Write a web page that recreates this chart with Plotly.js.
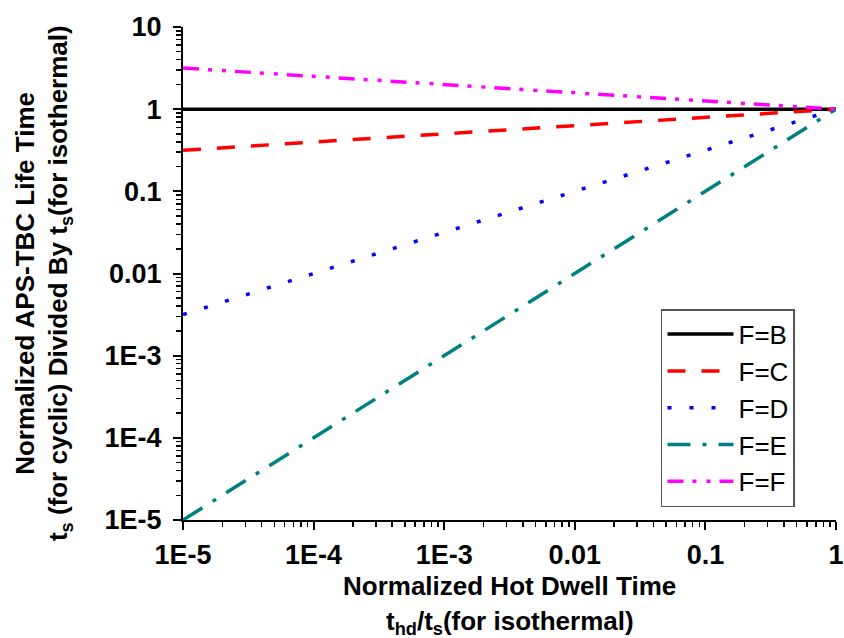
<!DOCTYPE html>
<html><head><meta charset="utf-8">
<script src="https://cdn.plot.ly/plotly-3.0.1.min.js"></script>
<style>body{margin:0;background:#fff}#c{width:844px;height:638px}</style>
</head><body><div id="c"></div>
<script>
const xEnds = [1e-5, 1];
const seriesNames = ["F=B", "F=C", "F=D", "F=E", "F=F"];
const yB = [1, 1];
const yC = [0.316, 1];
const yD = [0.00316, 1];
const yE = [1e-5, 1];
const yF = [3.16, 1];
const xTickVals = [1e-5, 1e-4, 1e-3, 0.01, 0.1, 1];
const xTickText = ["1E-5", "1E-4", "1E-3", "0.01", "0.1", "1"];
const yTickVals = [1e-5, 1e-4, 1e-3, 0.01, 0.1, 1, 10];
const yTickText = ["1E-5", "1E-4", "1E-3", "0.01", "0.1", "1", "10"];
const xTitleLines = ["Normalized Hot Dwell Time", "t<sub>hd</sub>/t<sub>s</sub>(for isothermal)"];
const yTitleLines = ["Normalized APS-TBC Life Time", "t<sub>s</sub> (for cyclic) Divided By t<sub>s</sub>(for isothermal)"];

const ys = [yB, yC, yD, yE, yF];
const colors = ["#000000", "#ff0000", "#0000ff", "#008080", "#ff00ff"];
const dashes = ["solid", "18px,16px", "4px,18px", "23px,12px,4px,12px", "16px,9px,4px,10px,4px,9px"];
const traces = ys.map((y, i) => ({
  x: xEnds, y: y, type: "scatter", mode: "lines", name: seriesNames[i],
  line: {color: colors[i], width: 3.5, dash: dashes[i]}
}));

const FAM = "Liberation Sans, Arial, sans-serif";
const tf = {family: FAM, size: 27, color: "#000", weight: "bold"};
const ttf = {family: FAM, size: 26, color: "#000", weight: "bold"};
const annotations = [
  {text: "<b>" + xTitleLines[0] + "</b>", xref: "paper", yref: "paper", x: 0.5, y: -0.134, xanchor: "center", yanchor: "middle", showarrow: false, font: ttf},
  {text: "<b>" + xTitleLines[1] + "</b>", xref: "paper", yref: "paper", x: 0.5, y: -0.207, xanchor: "center", yanchor: "middle", showarrow: false, font: ttf},
  {text: "<b>" + yTitleLines[0] + "</b>", xref: "paper", yref: "paper", x: -0.242, y: 0.481, xanchor: "center", yanchor: "middle", textangle: -90, showarrow: false, font: ttf},
  {text: "<b>" + yTitleLines[1] + "</b>", xref: "paper", yref: "paper", x: -0.188, y: 0.481, xanchor: "center", yanchor: "middle", textangle: -90, showarrow: false, font: ttf}
];

const axisCommon = {
  type: "log", showgrid: false, zeroline: false,
  showline: true, linecolor: "#000", linewidth: 2, mirror: false,
  ticks: "outside", ticklen: 8, tickwidth: 2, tickcolor: "#000",
  tickfont: tf, ticklabelstandoff: 2,
  minor: {ticks: "outside", ticklen: 5, tickwidth: 1.5, tickcolor: "#000", dtick: "D1", showgrid: false}
};
const layout = {
  width: 844, height: 638,
  margin: {l: 183, r: 8, t: 27, b: 118},
  paper_bgcolor: "#fff", plot_bgcolor: "#fff",
  showlegend: true,
  legend: {x: 0.732, y: 0.026, xanchor: "left", yanchor: "bottom",
    bordercolor: "#555", borderwidth: 1.5, bgcolor: "#fff",
    font: {family: FAM, size: 26, color: "#000"}, tracegroupgap: 0, itemwidth: 66},
  xaxis: Object.assign({}, axisCommon, {range: [-5, 0], tickvals: xTickVals, ticktext: xTickText}),
  yaxis: Object.assign({}, axisCommon, {range: [-5, 1], tickvals: yTickVals, ticktext: yTickText, ticklabelstandoff: 6}),
  annotations: annotations
};
Plotly.newPlot("c", traces, layout, {displayModeBar: false, staticPlot: true});
</script></body></html>
